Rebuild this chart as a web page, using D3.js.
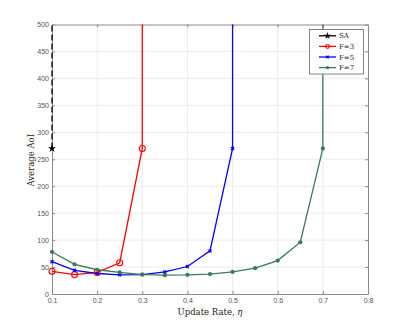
<!DOCTYPE html>
<html>
<head>
<meta charset="utf-8">
<script src="https://cdn.jsdelivr.net/npm/d3@7"></script>
<style>
  body { margin: 0; background: #fff; }
  svg { display: block; }
</style>
</head>
<body>
<svg id="chart" width="407" height="331"></svg>
<script>
// Update rates on the x axis
const rates = [0.1, 0.15, 0.2, 0.25, 0.3, 0.35, 0.4, 0.45, 0.5, 0.55, 0.6, 0.65, 0.7];

// Average AoI per series (curves blow up past the last point)
const saAoI = [270];
const f3AoI = [42, 36, 40, 58, 270];
const f5AoI = [60, 44, 38, 35.5, 36, 41, 51, 80, 270];
const f7AoI = [78, 55, 45, 40, 36, 35, 35.5, 37, 41, 48, 62, 96, 270];

const xTicks = [0.1, 0.2, 0.3, 0.4, 0.5, 0.6, 0.7, 0.8];
const yTicks = [0, 50, 100, 150, 200, 250, 300, 350, 400, 450, 500];

const svg = d3.select("#chart");
const plotL = 52, plotR = 368, plotT = 24.5, plotB = 294;

const x = d3.scaleLinear().domain([0.1, 0.8]).range([plotL, plotR]);
const y = d3.scaleLinear().domain([0, 500]).range([plotB, plotT]);
const yMax = 500; // vertical asymptote drawn up to the top of the axes

const axisColor = "#8a8a8a";
const serif = "'DejaVu Serif', 'Liberation Serif', serif";

// clip for data lines
svg.append("defs").append("clipPath").attr("id", "clip")
  .append("rect").attr("x", plotL - 4).attr("y", plotT).attr("width", plotR - plotL + 8).attr("height", plotB - plotT + 4);

// grid
svg.append("g").selectAll("line").data(xTicks.slice(1, -1)).join("line")
  .attr("x1", d => x(d)).attr("x2", d => x(d)).attr("y1", plotT).attr("y2", plotB)
  .attr("stroke", "#ebebeb").attr("stroke-width", 1);
svg.append("g").selectAll("line").data(yTicks.slice(1, -1)).join("line")
  .attr("x1", plotL).attr("x2", plotR).attr("y1", d => y(d)).attr("y2", d => y(d))
  .attr("stroke", "#ebebeb").attr("stroke-width", 1);

// axes
const xAxis = svg.append("g").attr("transform", `translate(0,${plotB})`)
  .call(d3.axisBottom(x).tickValues(xTicks).tickFormat(d3.format(".1f")).tickSizeInner(-3).tickSizeOuter(0).tickPadding(4));
const yAxis = svg.append("g").attr("transform", `translate(${plotL},0)`)
  .call(d3.axisLeft(y).tickValues(yTicks).tickSizeInner(-3).tickSizeOuter(0).tickPadding(3));
const xAxisTop = svg.append("g").attr("transform", `translate(0,${plotT})`)
  .call(d3.axisTop(x).tickValues(xTicks).tickFormat("").tickSizeInner(-3).tickSizeOuter(0));
const yAxisRight = svg.append("g").attr("transform", `translate(${plotR},0)`)
  .call(d3.axisRight(y).tickValues(yTicks).tickFormat("").tickSizeInner(-3).tickSizeOuter(0));

[xAxis, yAxis, xAxisTop, yAxisRight].forEach(g => {
  g.select(".domain").attr("stroke", axisColor).attr("stroke-width", 1);
  g.selectAll(".tick line").attr("stroke", axisColor);
  g.selectAll("text").attr("fill", "#555").attr("font-size", 7)
    .attr("font-family", "'Liberation Sans', Arial, sans-serif");
});

const line = d3.line().x(d => x(d[0])).y(d => y(d[1]));
const plot = svg.append("g").attr("clip-path", "url(#clip)");

function series(values, color, dash) {
  const pts = values.map((v, i) => [rates[i], v]);
  const last = pts[pts.length - 1];
  const path = pts.concat([[last[0], yMax + 2]]);
  plot.append("path").datum(path).attr("d", line)
    .attr("fill", "none").attr("stroke", color).attr("stroke-width", 1.3)
    .attr("stroke-dasharray", dash || null);
  return pts;
}

// SA (dashed black)
const saPts = series(saAoI, "#000", "6,3");
const star = d3.symbol().type(d3.symbolStar).size(20);
svg.append("g").selectAll("path").data(saPts).join("path")
  .attr("d", star).attr("transform", d => `translate(${x(d[0])},${y(d[1])})`).attr("fill", "#000");

// F=3 red, open circles
const f3Pts = series(f3AoI, "#ff0000");
svg.append("g").selectAll("circle").data(f3Pts).join("circle")
  .attr("cx", d => x(d[0])).attr("cy", d => y(d[1])).attr("r", 3)
  .attr("fill", "none").attr("stroke", "#ff0000").attr("stroke-width", 1.1);

// F=5 blue, asterisk-like markers
const f5Pts = series(f5AoI, "#0000ff");
const cross = d3.symbol().type(d3.symbolX).size(7);
svg.append("g").selectAll("path").data(f5Pts).join("path")
  .attr("d", cross).attr("transform", d => `translate(${x(d[0])},${y(d[1])})`)
  .attr("fill", "none").attr("stroke", "#0000ff").attr("stroke-width", 1.4);

// F=7 green, filled dots
const green = "#3b7a57";
const f7Pts = series(f7AoI, green);
svg.append("g").selectAll("circle").data(f7Pts).join("circle")
  .attr("cx", d => x(d[0])).attr("cy", d => y(d[1])).attr("r", 2.1).attr("fill", green);

// axis labels
svg.append("text").attr("x", x(0.45)).attr("y", 314.5).attr("text-anchor", "middle")
  .attr("font-family", serif).attr("font-size", 8.5).attr("fill", "#222")
  .html("Update Rate, <tspan font-style='italic'>η</tspan>");
svg.append("text").attr("transform", `translate(33.5,${(plotT + plotB) / 2 + 1}) rotate(-90)`)
  .attr("text-anchor", "middle").attr("font-family", serif).attr("font-size", 8.5).attr("fill", "#222")
  .text("Average AoI");

// legend
const legendItems = [
  { name: "SA", color: "#000", mark: "star" },
  { name: "F=3", color: "#ff0000", mark: "circle" },
  { name: "F=5", color: "#0000ff", mark: "x" },
  { name: "F=7", color: green, mark: "dot" }
];
const lg = svg.append("g");
lg.append("rect").attr("x", 309.5).attr("y", 29.5).attr("width", 54).attr("height", 44.5)
  .attr("fill", "#fff").attr("stroke", "#666").attr("stroke-width", 0.8);
legendItems.forEach((d, i) => {
  const cy = 35.8 + i * 10.6;
  lg.append("line").attr("x1", 319).attr("x2", 336).attr("y1", cy).attr("y2", cy)
    .attr("stroke", d.color).attr("stroke-width", 1.3);
  const mx = 327.5;
  if (d.mark === "star") {
    lg.append("path").attr("d", d3.symbol().type(d3.symbolStar).size(16)).attr("transform", `translate(${mx},${cy})`).attr("fill", d.color);
  } else if (d.mark === "circle") {
    lg.append("circle").attr("cx", mx).attr("cy", cy).attr("r", 2).attr("fill", "none").attr("stroke", d.color);
  } else if (d.mark === "x") {
    lg.append("path").attr("d", d3.symbol().type(d3.symbolX).size(5)).attr("transform", `translate(${mx},${cy})`)
      .attr("stroke", d.color).attr("stroke-width", 1.2);
  } else {
    lg.append("circle").attr("cx", mx).attr("cy", cy).attr("r", 1.7).attr("fill", d.color);
  }
  lg.append("text").attr("x", 339).attr("y", cy + 2.6).attr("font-family", serif)
    .attr("font-size", 7).attr("fill", "#222").text(d.name);
});
</script>
</body>
</html>
